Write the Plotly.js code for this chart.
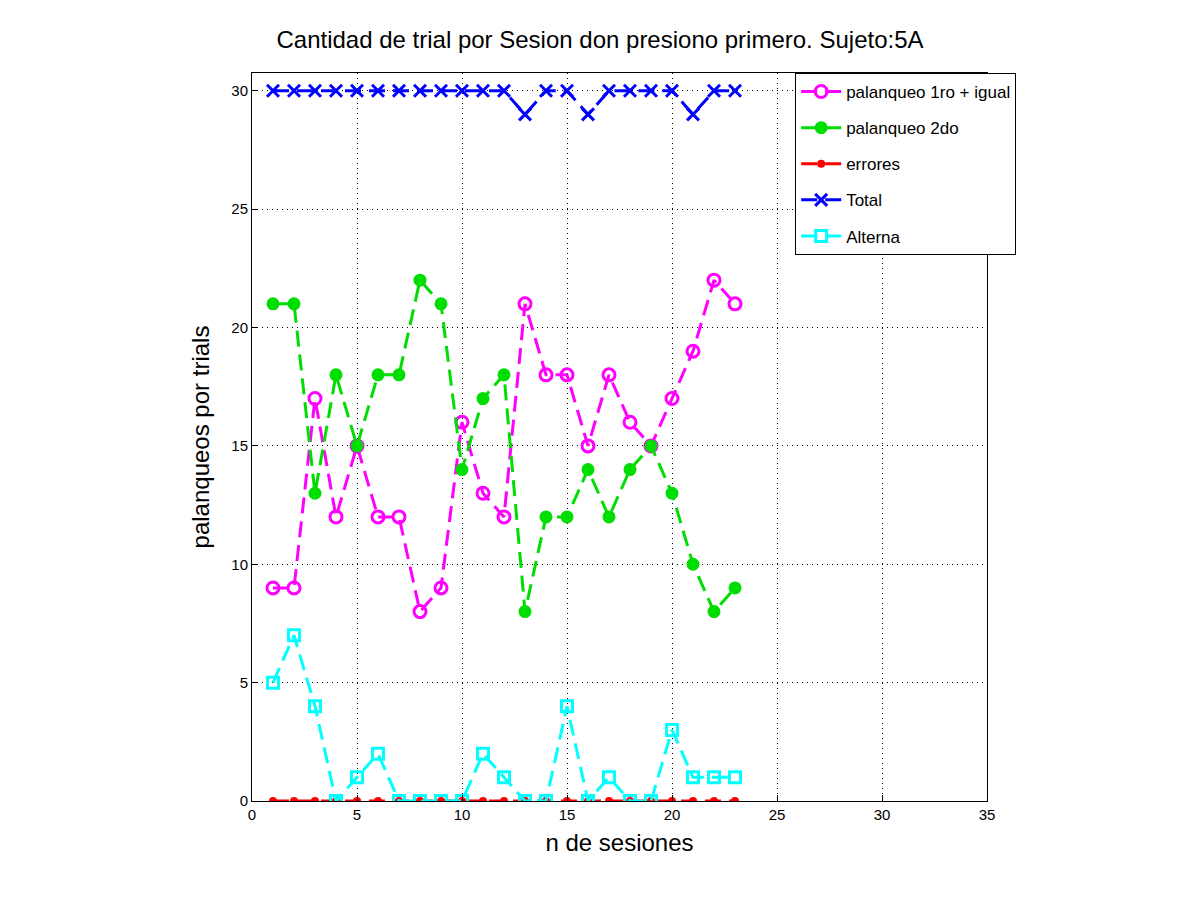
<!DOCTYPE html>
<html>
<head>
<meta charset="utf-8">
<script src="https://cdn.plot.ly/plotly-3.0.1.min.js"></script>
<style>body{margin:0;background:#fff}</style>
</head>
<body>
<div id="chart" style="width:1200px;height:900px"></div>
<script>
// sesiones 1..23
const sesiones = [1,2,3,4,5,6,7,8,9,10,11,12,13,14,15,16,17,18,19,20,21,22,23];
const primeroIgual = [9,9,17,12,15,12,12,8,9,16,13,12,21,18,18,15,18,16,15,17,19,22,21];
const segundo = [21,21,13,18,15,18,18,22,21,14,17,18,8,12,12,14,12,14,15,13,10,8,9];
const errores = [0,0,0,0,0,0,0,0,0,0,0,0,0,0,0,0,0,0,0,0,0,0,0];
const total = [30,30,30,30,30,30,30,30,30,30,30,30,29,30,30,29,30,30,30,30,29,30,30];
const alterna = [5,7,4,0,1,2,0,0,0,0,2,1,0,0,4,0,1,0,0,3,1,1,1];

function serie(y, name, color, symbol, size) {
  return {
    x: sesiones, y: y, name: name, legendgroup: name, type: 'scatter', mode: 'lines+markers',
    line: { color: color, width: 3, dash: '16px,8px' },
    marker: { color: color, symbol: symbol, size: size, line: { color: color, width: 3 } },
  };
}

const traces = [
  serie(primeroIgual, 'palanqueo 1ro + igual', '#ff00ff', 'circle-open', 12),
  serie(segundo, 'palanqueo 2do', '#00dd00', 'circle', 10),
  serie(errores, 'errores', '#ff0000', 'circle', 5),
  serie(total, 'Total', '#0000ff', 'x-thin-open', 12),
  serie(alterna, 'Alterna', '#00ffff', 'square-open', 11),
];

const axisBase = {
  showline: true, mirror: true, linecolor: '#000', linewidth: 1,
  ticks: 'inside', ticklen: 6, tickcolor: '#000',
  showgrid: true, gridcolor: '#000', griddash: '1px,4px', gridwidth: 1,
  zeroline: false, tickfont: { size: 15, color: '#000' },
};

const layout = {
  paper_bgcolor: '#fff', plot_bgcolor: '#fff',
  font: { family: 'Liberation Sans, Arial, sans-serif', color: '#000' },
  margin: { l: 252, r: 213, t: 73, b: 99 },
  title: { text: 'Cantidad de trial por Sesion don presiono primero. Sujeto:5A',
           font: { size: 24 }, x: 0.5, xanchor: 'center', y: 0.965 },
  xaxis: { ...axisBase, range: [0, 35], dtick: 5,
           title: { text: 'n de sesiones', font: { size: 24 }, standoff: 12 } },
  yaxis: { ...axisBase, range: [0, 30.75], tickvals: [0,5,10,15,20,25,30],
           title: { text: 'palanqueos por trials', font: { size: 24 }, standoff: 14 } },
  legend: { x: 0.739, y: 1, xanchor: 'left', yanchor: 'top', bgcolor: '#fff',
            bordercolor: '#000', borderwidth: 1, font: { size: 17 }, itemwidth: 40,
            tracegroupgap: 11 },
  showlegend: true,
};

Plotly.newPlot('chart', traces, layout, { displayModeBar: false });
</script>
</body>
</html>
